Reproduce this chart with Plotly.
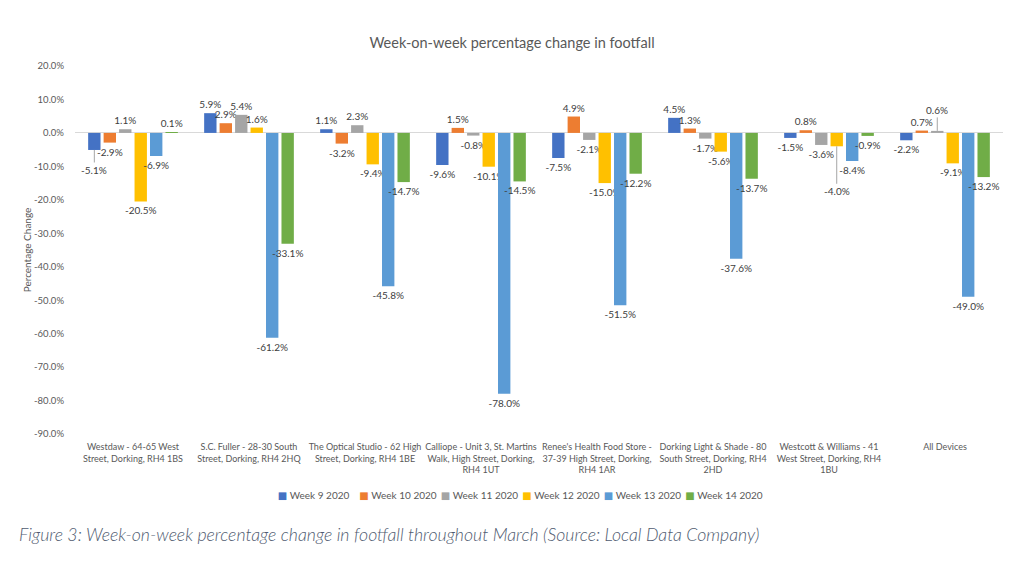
import plotly.graph_objects as go

categories = [
    "Westdaw - 64-65 West Street, Dorking, RH4 1BS",
    "S.C. Fuller - 28-30 South Street, Dorking, RH4 2HQ",
    "The Optical Studio - 62 High Street, Dorking, RH4 1BE",
    "Calliope - Unit 3, St. Martins Walk, High Street, Dorking, RH4 1UT",
    "Renee's Health Food Store - 37-39 High Street, Dorking, RH4 1AR",
    "Dorking Light & Shade - 80 South Street, Dorking, RH4 2HD",
    "Westcott & Williams - 41 West Street, Dorking, RH4 1BU",
    "All Devices",
]
tick_labels = [
    "Westdaw - 64-65 West<br>Street, Dorking, RH4 1BS",
    "S.C. Fuller - 28-30 South<br>Street, Dorking, RH4 2HQ",
    "The Optical Studio - 62 High<br>Street, Dorking, RH4 1BE",
    "Calliope - Unit 3, St. Martins<br>Walk, High Street, Dorking,<br>RH4 1UT",
    "Renee's Health Food Store -<br>37-39 High Street, Dorking,<br>RH4 1AR",
    "Dorking Light & Shade - 80<br>South Street, Dorking, RH4<br>2HD",
    "Westcott & Williams - 41<br>West Street, Dorking, RH4<br>1BU",
    "All Devices",
]
series_names = ["Week 9 2020", "Week 10 2020", "Week 11 2020",
                "Week 12 2020", "Week 13 2020", "Week 14 2020"]
week9 = [-5.1, 5.9, 1.1, -9.6, -7.5, 4.5, -1.5, -2.2]
week10 = [-2.9, 2.9, -3.2, 1.5, 4.9, 1.3, 0.8, 0.7]
week11 = [1.1, 5.4, 2.3, -0.8, -2.1, -1.7, -3.6, 0.6]
week12 = [-20.5, 1.6, -9.4, -10.1, -15.0, -5.6, -4.0, -9.1]
week13 = [-6.9, -61.2, -45.8, -78.0, -51.5, -37.6, -8.4, -49.0]
week14 = [0.1, -33.1, -14.7, -14.5, -12.2, -13.7, -0.9, -13.2]
series_values = [week9, week10, week11, week12, week13, week14]
colors = ["#4472C4", "#ED7D31", "#A5A5A5", "#FFC000", "#5B9BD5", "#70AD47"]

y_ticks = [20, 10, 0, -10, -20, -30, -40, -50, -60, -70, -80, -90]
y_tick_labels = ["20.0%", "10.0%", "0.0%", "-10.0%", "-20.0%", "-30.0%",
                 "-40.0%", "-50.0%", "-60.0%", "-70.0%", "-80.0%", "-90.0%"]

# data labels that the original moved away from the bar, with a leader line
# (series index, category index, label offset in px)
moved_labels = [(0, 0, 20), (3, 6, 45), (2, 7, -21)]

FONT = "Lato"
BARGAP = 0.2
PLOT_W = 928
n_series = len(series_names)
slot_px = PLOT_W / len(categories) * (1 - BARGAP) / n_series
moved_keys = {(s, c) for s, c, _ in moved_labels}
CLEAR = "rgba(0,0,0,0)"

fig = go.Figure()
for si, (name, vals, col) in enumerate(zip(series_names, series_values, colors)):
    labels = ["" if (si, ci) in moved_keys else f"{v:.1f}%"
              for ci, v in enumerate(vals)]
    fig.add_trace(go.Bar(
        x=categories, y=vals, name=name, marker_color=col,
        marker_line_width=0,
        text=labels, texttemplate="%{text}", textposition="outside",
        textfont=dict(family=FONT, size=10, color="#404040"),
        constraintext="none", cliponaxis=False, showlegend=False,
    ))
# legend entries: the coloured square is drawn as part of the entry text,
# so it sits close to the label as in the original
legend_names = [f"<span style='color:{col}; font-family:DejaVu Sans'>■</span> {name}"
                for name, col in zip(series_names, colors)] + [" "]
for lname in legend_names:
    fig.add_trace(go.Scatter(
        x=[None], y=[None], mode="markers", name=lname,
        marker=dict(symbol="square", size=1, color=CLEAR,
                    line=dict(width=0, color=CLEAR)),
        showlegend=True,
    ))

annotations = []
for si, ci, off in moved_labels:
    v = series_values[si][ci]
    annotations.append(dict(
        x=categories[ci], y=v, xref="x", yref="y",
        xshift=(si - (n_series - 1) / 2) * slot_px,
        text=f"{v:.1f}%", showarrow=True, arrowhead=0, arrowwidth=1,
        arrowcolor="#A6A6A6", ax=0, ay=off, standoff=0,
        font=dict(family=FONT, size=10, color="#404040")))
annotations.append(dict(
    text="<i>Figure 3: Week-on-week percentage change in footfall throughout March (Source: Local Data Company)</i>",
    xref="paper", yref="paper", x=(17 - 75) / 928, y=(434 - 534) / 368,
    xanchor="left", yanchor="middle", showarrow=False,
    font=dict(family=FONT, size=17.7, weight=300, color="#4F5B70")))

fig.update_layout(
    width=1024, height=573,
    paper_bgcolor="white", plot_bgcolor="white",
    margin=dict(l=67, r=29, t=58, b=147),
    barmode="group", bargap=BARGAP, bargroupgap=0.2,
    font=dict(family=FONT, color="#595959"),
    title=dict(text="Week-on-week percentage change in footfall",
               x=(512 - 8) / 1024, xanchor="center", y=1 - 35 / 573, yanchor="middle",
               font=dict(family=FONT, size=14.5, color="#595959")),
    legend=dict(orientation="h", x=0.1755, xanchor="left",
                y=-0.166, yanchor="middle",
                font=dict(family=FONT, size=10, color="#595959"),
                itemwidth=30, entrywidth=36.5, entrywidthmode="pixels",
                bgcolor="rgba(0,0,0,0)"),
    annotations=annotations,
)
fig.update_xaxes(
    tickmode="array", tickvals=categories, ticktext=tick_labels,
    tickangle=0, automargin=False, ticklabelstandoff=6,
    tickfont=dict(family=FONT, size=9, color="#595959"),
    showgrid=False, showline=False, zeroline=False, ticks="",
)
fig.update_yaxes(
    range=[-90, 20], tickmode="array", tickvals=y_ticks, ticktext=y_tick_labels,
    tickfont=dict(family=FONT, size=9.5, color="#595959"),
    showgrid=False, showline=False, ticks="",
    zeroline=True, zerolinecolor="#D9D9D9", zerolinewidth=1,
    ticklabelstandoff=10, automargin=False,
    title=dict(text="Percentage Change", standoff=0,
               font=dict(family=FONT, size=10, color="#595959")),
)
fig.write_html("out.html")
